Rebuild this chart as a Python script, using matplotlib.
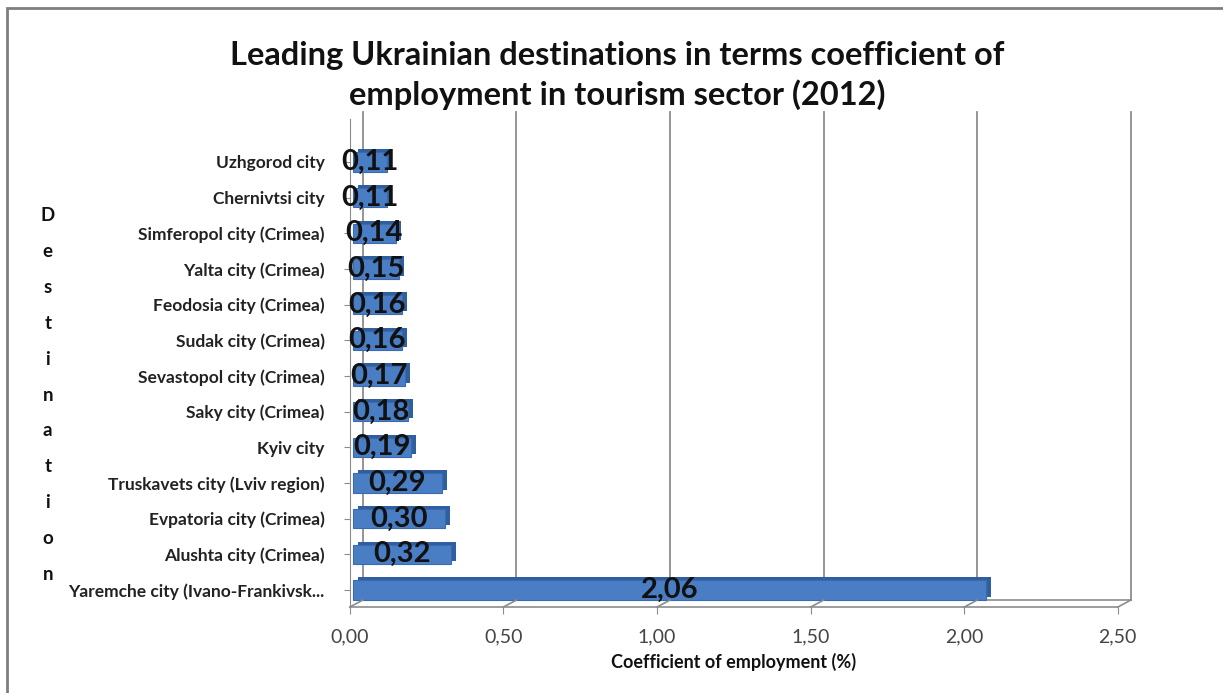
import matplotlib.pyplot as plt
import matplotlib.transforms as mtransforms
from matplotlib.patches import Rectangle

plt.rcParams["font.family"] = ["Lato", "DejaVu Sans"]

cities = ["Uzhgorod city", "Chernivtsi city", "Simferopol city (Crimea)",
          "Yalta city (Crimea)", "Feodosia city (Crimea)", "Sudak city (Crimea)",
          "Sevastopol city (Crimea)", "Saky city (Crimea)", "Kyiv city",
          "Truskavets city (Lviv region)", "Evpatoria city (Crimea)",
          "Alushta city (Crimea)", "Yaremche city (Ivano-Frankivsk..."]
coef = [0.11, 0.11, 0.14, 0.15, 0.16, 0.16, 0.17, 0.18, 0.19,
        0.29, 0.30, 0.32, 2.06]
xticks = [0.0, 0.5, 1.0, 1.5, 2.0, 2.5]

fig = plt.figure(figsize=(12.23, 6.93), dpi=100)
ax = fig.add_axes([0.286, 0.124, 0.628, 0.704])

ypos = list(range(len(cities)))[::-1]
ax.set_xlim(0, 2.5)
ax.set_ylim(-0.48, 13.2)
ymin, ymax = ax.get_ylim()

# depth offset for the pseudo-3D back wall
dx, dy = 13 / 100, 7 / 100
back = ax.transData + mtransforms.ScaledTranslation(dx, dy, fig.dpi_scale_trans)
bar_back = ax.transData + mtransforms.ScaledTranslation(5 / 100, 3 / 100, fig.dpi_scale_trans)

grid_c = "#8c8c8c"
for x in xticks:
    ax.plot([x, x], [ymin, ymax], color=grid_c, lw=1.3, transform=back,
            zorder=1, clip_on=False)
fig.canvas.draw()
for x in xticks:
    # short slanted floor edges joining front ticks to the back wall
    p0 = ax.transData.transform((x, ymin))
    p1 = back.transform((x, ymin))
    fig.add_artist(plt.Line2D([p0[0] / fig.bbox.width, p1[0] / fig.bbox.width],
                              [p0[1] / fig.bbox.height, p1[1] / fig.bbox.height],
                              color=grid_c, lw=1.2))
ax.plot([0, 2.5], [ymin, ymin], color=grid_c, lw=1.2, transform=back, zorder=1, clip_on=False)
ax.plot([0, 2.5], [ymin, ymin], color=grid_c, lw=1.2, zorder=1, clip_on=False)

# bars: dark depth face behind, lighter front face
ax.barh(ypos, coef, height=0.54, left=0.01, color="#2f5f9e", transform=bar_back, zorder=2)
ax.barh(ypos, coef, height=0.54, left=0.01, color="#4a7ec4",
        edgecolor="#3a6bb0", lw=0.8, zorder=3)

for y, v in zip(ypos, coef):
    ax.text(0.01 + v / 2, y, f"{v:.2f}".replace(".", ","), ha="center", va="center",
            fontsize=21, fontweight="bold", color="#111111", zorder=4)

ax.set_yticks(ypos)
ax.set_yticklabels(cities, fontsize=12.5, fontweight="bold", color="#222222")
ax.set_xticks(xticks)
ax.set_xticklabels([f"{t:.2f}".replace(".", ",") for t in xticks], fontsize=14,
                   color="#444444")
ax.tick_params(axis="y", length=4, color=grid_c, pad=14)
ax.tick_params(axis="x", length=5, color=grid_c, pad=10)
for s in ["top", "right", "bottom"]:
    ax.spines[s].set_visible(False)
ax.spines["left"].set_color(grid_c)
ax.set_facecolor("none")

ax.set_xlabel("Coefficient of employment (%)", fontsize=13, fontweight="bold",
              labelpad=6, color="#111111")

fig.text(0.039, 0.43, "\n".join("Destination"), ha="center", va="center",
         fontsize=13.5, fontweight="bold", linespacing=2.35, color="#111111")

fig.text(0.505, 0.891,
         "Leading Ukrainian destinations in terms coefficient of\n"
         "employment in tourism sector (2012)",
         ha="center", va="center", fontsize=23.5, fontweight="bold",
         linespacing=1.38, color="#111111")

# chart frame
fig.add_artist(Rectangle((7 / 1223, -0.05), 1.2, 1 - 8 / 693 + 0.05,
                         transform=fig.transFigure, fill=False,
                         edgecolor="#7f7f7f", lw=2))

fig.savefig("out.png", dpi=100, facecolor="white")
